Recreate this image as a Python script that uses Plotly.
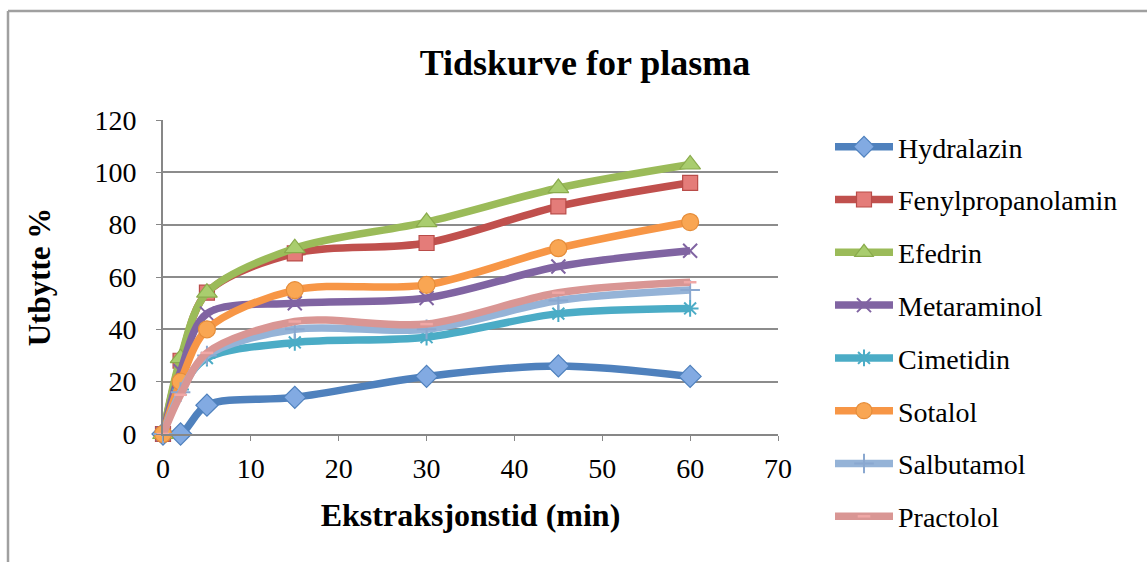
import plotly.graph_objects as go

# ---- data ----
time_min = [0, 2, 5, 15, 30, 45, 60]
hydralazin = [0, 0, 11, 14, 22, 26, 22]
fenylpropanolamin = [0, 28, 54, 69, 73, 87, 96]
efedrin = [0, 29, 54, 71, 81, 94, 103]
metaraminol = [0, 24, 46, 50, 52, 64, 70]
cimetidin = [0, 17, 29, 35, 37, 46, 48]
sotalol = [0, 20, 40, 55, 57, 71, 81]
salbutamol = [0, 16, 30, 40, 40, 51, 55]
practolol = [0, 15, 31, 43, 42, 54, 58]

series_names = ["Hydralazin", "Fenylpropanolamin", "Efedrin", "Metaraminol",
                "Cimetidin", "Sotalol", "Salbutamol", "Practolol"]
series_values = [hydralazin, fenylpropanolamin, efedrin, metaraminol,
                 cimetidin, sotalol, salbutamol, practolol]

title_text = "Tidskurve for plasma"
x_title = "Ekstraksjonstid (min)"
y_title = "Utbytte %"

# ---- styles ----
W, H = 1147, 562
L, R, T, B = 163, 1147 - 778, 120, 562 - 434
PW, PH = W - L - R, H - T - B

def px(x):
    return (x - L) / PW

def py(y):
    return (H - B - y) / PH

line_colors = ["#4F81BD", "#C0504D", "#9BBB59", "#8064A2",
               "#4BACC6", "#F79646", "#95B3D7", "#D99694"]
markers = [
    dict(symbol="diamond", size=17, color="#82AAE2", line=dict(color="#4F81BD", width=1.2)),
    dict(symbol="square", size=15, color="#E47C79", line=dict(color="#B94C49", width=1.2)),
    dict(symbol="triangle-up", size=18, color="#A9CD6E", line=dict(color="#8AAB4C", width=1.2)),
    dict(symbol="x-thin", size=14, color="#8064A2", line=dict(color="#8064A2", width=2)),
    dict(symbol="asterisk", size=14, color="#4BACC6", line=dict(color="#4BACC6", width=2)),
    dict(symbol="circle", size=17, color="#F9A653", line=dict(color="#E58D3A", width=1.2)),
    dict(symbol="cross-thin", size=14, color="#95B3D7", line=dict(color="#8AA8D0", width=2)),
    dict(symbol="line-ew", size=9, color="#F0A8A6", line=dict(color="#F0A8A6", width=2.5)),
]

serif = "Liberation Serif"

fig = go.Figure()
for i, (name, vals) in enumerate(zip(series_names, series_values)):
    fig.add_trace(go.Scatter(
        x=time_min, y=vals, name=name, mode="lines+markers",
        line=dict(color=line_colors[i], width=7.5, shape="spline", smoothing=0.9),
        marker=markers[i], cliponaxis=False, legendgroup=name,
    ))

fig.update_layout(
    width=W, height=H,
    margin=dict(l=L, r=R, t=T, b=B),
    paper_bgcolor="white", plot_bgcolor="white",
    title=dict(text=title_text, x=px(585), xref="paper", xanchor="center",
               y=1 - 62 / H, yanchor="middle",
               font=dict(family=serif, size=36, color="black", weight="bold")),
    showlegend=True,
    legend=dict(x=px(830), xanchor="left", y=py(122), yanchor="top",
                font=dict(family=serif, size=28, color="black"),
                tracegroupgap=13.4, itemwidth=58, bgcolor="rgba(0,0,0,0)",
                maxheight=H),
    xaxis=dict(range=[0, 70], dtick=10, showgrid=False,
               showline=True, linecolor="#878787", linewidth=2,
               ticks="outside", ticklen=5, tickcolor="#878787",
               tickfont=dict(family=serif, size=28, color="black"),
               ticklabelstandoff=3, zeroline=False,
               title=dict(text=x_title, standoff=21,
                          font=dict(family=serif, size=32, color="black", weight="bold"))),
    yaxis=dict(range=[0, 120], dtick=20, showgrid=True, gridcolor="#8C8C8C", gridwidth=1.5,
               showline=True, linecolor="#878787", linewidth=2,
               ticks="outside", ticklen=5, tickcolor="#878787",
               tickfont=dict(family=serif, size=28, color="black"),
               ticklabelstandoff=14, zeroline=False,
               title=dict(text=y_title, standoff=35,
                          font=dict(family=serif, size=31, color="black", weight="bold"))),
)

# chart-frame lines (top and left edges of the original chart border)
fig.add_shape(type="line", xref="paper", yref="paper",
              x0=px(8), x1=px(W + 5), y0=py(11), y1=py(11),
              line=dict(color="#A0A0A0", width=2.5))
fig.add_shape(type="line", xref="paper", yref="paper",
              x0=px(8), x1=px(8), y0=py(11), y1=py(H + 5),
              line=dict(color="#A0A0A0", width=2.5))

fig.write_html("out.html")
